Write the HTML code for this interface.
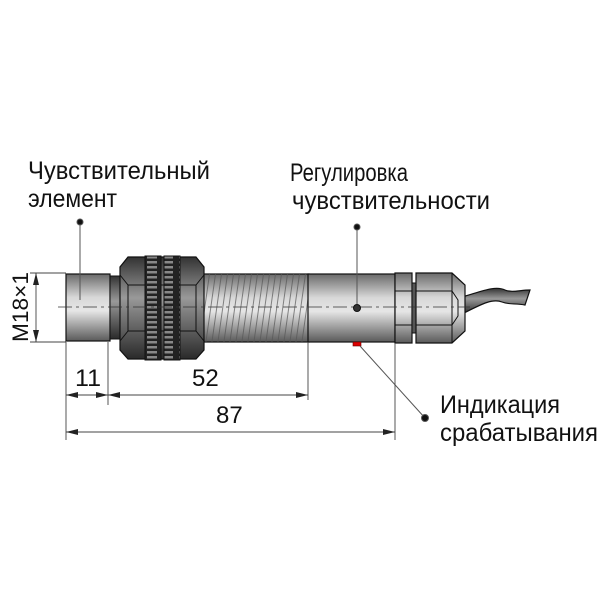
<!DOCTYPE html>
<html><head><meta charset="utf-8"><style>body{margin:0;background:#fff}svg{display:block}</style></head><body>
<svg width="600" height="600" viewBox="0 0 600 600" xmlns="http://www.w3.org/2000/svg" font-family="'Liberation Sans', sans-serif">
<defs>
<linearGradient id="g" x1="0" y1="0" x2="0" y2="1">
<stop offset="0" stop-color="#6a6a6a"/><stop offset="0.35" stop-color="#d8d8d8"/><stop offset="0.55" stop-color="#e6e6e6"/><stop offset="1" stop-color="#5a5a5a"/>
</linearGradient>
<linearGradient id="d" x1="0" y1="0" x2="0" y2="1">
<stop offset="0" stop-color="#333"/><stop offset="0.4" stop-color="#999"/><stop offset="1" stop-color="#2a2a2a"/>
</linearGradient>
<pattern id="th" width="6" height="70" patternUnits="userSpaceOnUse" patternTransform="skewX(-8)">
<line x1="2" y1="0" x2="2" y2="70" stroke="#555" stroke-width="0.7"/>
</pattern>
<pattern id="kn" width="16" height="5" patternUnits="userSpaceOnUse">
<rect width="16" height="5" fill="#222"/><rect x="3" y="1" width="10" height="2.5" fill="#888"/>
</pattern>
</defs>
<g fill="#111">
<text x="28" y="179" font-size="25" textLength="182" lengthAdjust="spacingAndGlyphs">Чувствительный</text>
<text x="28" y="207" font-size="25" textLength="89" lengthAdjust="spacingAndGlyphs">элемент</text>
<text x="290" y="181" font-size="25" textLength="118" lengthAdjust="spacingAndGlyphs">Регулировка</text>
<text x="292" y="209" font-size="25" textLength="198" lengthAdjust="spacingAndGlyphs">чувствительности</text>
<text x="440" y="413" font-size="25" textLength="120" lengthAdjust="spacingAndGlyphs">Индикация</text>
<text x="440" y="441" font-size="25" textLength="158" lengthAdjust="spacingAndGlyphs">срабатывания</text>
<text x="75" y="386" font-size="24" textLength="26" lengthAdjust="spacingAndGlyphs">11</text>
<text x="192" y="386" font-size="24">52</text>
<text x="216" y="423" font-size="24">87</text>
<text transform="translate(28,342) rotate(-90)" font-size="22" textLength="70" lengthAdjust="spacingAndGlyphs">M18×1</text>
</g>
<!-- cable -->
<path d="M462,297 C480,292 495,285 505,290 C512,293 520,290 530,290 L525,305 C515,303 510,305 502,302 C492,298 480,305 462,314 Z" fill="url(#d)" stroke="#111" stroke-width="1.2"/>
<!-- head -->
<rect x="66" y="274" width="44" height="67" fill="url(#g)" stroke="#111" stroke-width="1.2"/>
<rect x="110" y="276" width="10" height="63" fill="url(#d)" stroke="#111"/>
<!-- threaded body -->
<rect x="203" y="274" width="106" height="68" fill="url(#g)" stroke="#111" stroke-width="1.2"/>
<rect x="203" y="274" width="106" height="68" fill="url(#th)"/>
<!-- smooth body -->
<rect x="308" y="274" width="87" height="68" fill="url(#g)" stroke="#111" stroke-width="1.2"/>
<!-- small nut -->
<rect x="395" y="273" width="17" height="70" fill="url(#g)" stroke="#111" stroke-width="1.2"/>
<line x1="395" y1="291" x2="412" y2="291" stroke="#111"/><line x1="395" y1="325" x2="412" y2="325" stroke="#111"/>
<rect x="412" y="283" width="4" height="50" fill="#555" stroke="#111"/>
<!-- large nut -->
<path d="M416,273 L452,273 L465,285 L465,331 L452,343 L416,343 Z" fill="url(#g)" stroke="#111" stroke-width="1.2"/>
<path d="M416,291 L452,291 L458,300 L458,316 L452,325 L416,325" fill="none" stroke="#111"/>
<line x1="452" y1="273" x2="452" y2="343" stroke="#111"/>
<!-- hex nut -->
<path d="M128,257 L196,257 L204,267 L204,350 L196,359 L128,359 L120,350 L120,267 Z" fill="url(#d)" stroke="#111" stroke-width="1.2"/>
<path d="M120,275 L128,285 L128,331 L120,341 M204,275 L196,285 L196,331 L204,341 M128,285 L196,285 M128,331 L196,331" fill="none" stroke="#111"/>
<rect x="145" y="256" width="16" height="104" fill="url(#kn)" stroke="#111"/>
<rect x="164" y="256" width="16" height="104" fill="url(#kn)" stroke="#111"/>
<!-- centerline -->
<line x1="58" y1="307" x2="470" y2="307" stroke="#333" stroke-width="0.8" stroke-dasharray="14,4,3,4"/>
<!-- adjust hole & led -->
<circle cx="357" cy="308" r="3.5" fill="#333" stroke="#111"/>
<rect x="353" y="342" width="8" height="4" fill="#d00" stroke="#600" stroke-width="0.6"/>
<!-- leaders -->
<g stroke="#555" stroke-width="1" fill="#111">
<line x1="80" y1="222" x2="80" y2="300"/><circle cx="80" cy="222" r="3"/>
<line x1="357" y1="227" x2="357" y2="304"/><circle cx="357" cy="227" r="3"/>
<line x1="360" y1="346" x2="425" y2="418"/><circle cx="425" cy="418" r="3.5"/>
</g>
<!-- dimensions -->
<g stroke="#444" stroke-width="0.9" fill="none">
<line x1="30" y1="273" x2="66" y2="273"/><line x1="30" y1="342" x2="66" y2="342"/>
<line x1="36" y1="273" x2="36" y2="342"/>
<line x1="66" y1="342" x2="66" y2="440"/>
<line x1="108" y1="342" x2="108" y2="405"/>
<line x1="308" y1="342" x2="308" y2="400"/>
<line x1="395" y1="343" x2="395" y2="440"/>
<line x1="66" y1="395" x2="308" y2="395"/>
<line x1="66" y1="432" x2="395" y2="432"/>
</g>
<g fill="#222">
<path d="M36,273 l-3,12 l6,0 z"/><path d="M36,342 l-3,-12 l6,0 z"/>
<path d="M66,395 l12,-3 l0,6 z"/><path d="M108,395 l-12,-3 l0,6 z"/>
<path d="M108,395 l12,-3 l0,6 z"/><path d="M308,395 l-12,-3 l0,6 z"/>
<path d="M66,432 l12,-3 l0,6 z"/><path d="M395,432 l-12,-3 l0,6 z"/>
</g>
</svg>
</body></html>
